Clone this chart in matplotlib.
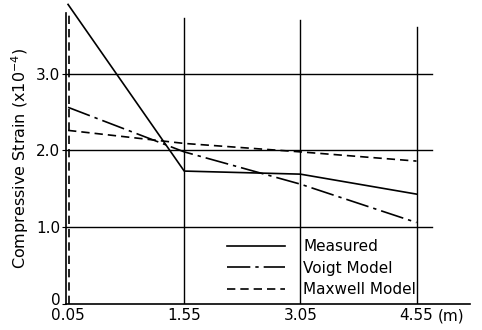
import matplotlib
matplotlib.use("Agg")
import matplotlib.pyplot as plt
import matplotlib.transforms as mtransforms

# distance from load point (m)
dist = [0.05, 1.55, 3.05, 4.55]
measured = [3.90, 1.73, 1.69, 1.43]
voigt = [2.56, 1.98, 1.56, 1.06]
maxwell = [2.26, 2.09, 1.98, 1.86]

xticks = [0.05, 1.55, 3.05, 4.55]
xlabels = ["0.05", "1.55", "3.05", "4.55"]
yticks = [0, 1.0, 2.0, 3.0]
ylabels = ["0", "1.0", "2.0", "3.0"]

plt.rcParams['font.family'] = ['DejaVu Sans']
fig = plt.figure(figsize=(4.82, 3.30), dpi=100)
ax = fig.add_axes([0.137, 0.079, 0.838, 0.882])

ax.set_xlim(0.024, 5.24)
ax.set_ylim(0, 3.79)

# grid lines drawn like the original: partial lengths
for y in yticks[1:]:
    ax.plot([0.024, 4.75], [y, y], color='black', lw=1.0, zorder=1)
tops = [3.72, 3.70, 3.61]
for x, t in zip(xticks[1:], tops):
    ax.plot([x, x], [0, t], color='black', lw=1.0, zorder=1)

# dashed vertical line at the loading point
ax.plot([0.065, 0.065], [0, 3.78], color='black', lw=1.2, ls=(0, (5, 3)))

ax.plot(dist, measured, color='black', lw=1.2, label='Measured', clip_on=False)
ax.plot(dist, voigt, color='black', lw=1.2, ls=(0, (14, 3, 2, 3)), label='Voigt Model')
ax.plot(dist, maxwell, color='black', lw=1.2, ls=(0, (5, 3)), label='Maxwell Model')

ax.spines['top'].set_visible(False)
ax.spines['right'].set_visible(False)
ax.spines['left'].set_linewidth(1.2)
ax.spines['bottom'].set_linewidth(1.2)

ax.set_xticks(xticks)
ax.set_xticklabels(xlabels, fontsize=11)
ax.set_yticks(yticks)
ax.set_yticklabels(ylabels, fontsize=11)
ax.tick_params(axis='x', length=0, pad=3)
ax.tick_params(axis='y', length=3, pad=1)
# lift the "0" label a little so it clears "0.05"
lab0 = ax.get_yticklabels()[0]
lab0.set_transform(lab0.get_transform() + mtransforms.ScaledTranslation(0, 5 / 100, fig.dpi_scale_trans))

ax.annotate("(m)", xy=(4.83, 0), xycoords='data', xytext=(0, -3), textcoords='offset points',
            fontsize=11, va='top', ha='left')

ax.set_ylabel(r"Compressive Strain (x10$^{-4}$)", fontsize=11.5, labelpad=4)

ax.legend(loc='upper left', bbox_to_anchor=(2.1, 0.84), bbox_transform=ax.transData,
          frameon=False, fontsize=11, handlelength=3.8, handletextpad=1.2,
          labelspacing=0.42, borderaxespad=0, borderpad=0)

plt.savefig('out.png', dpi=100)
